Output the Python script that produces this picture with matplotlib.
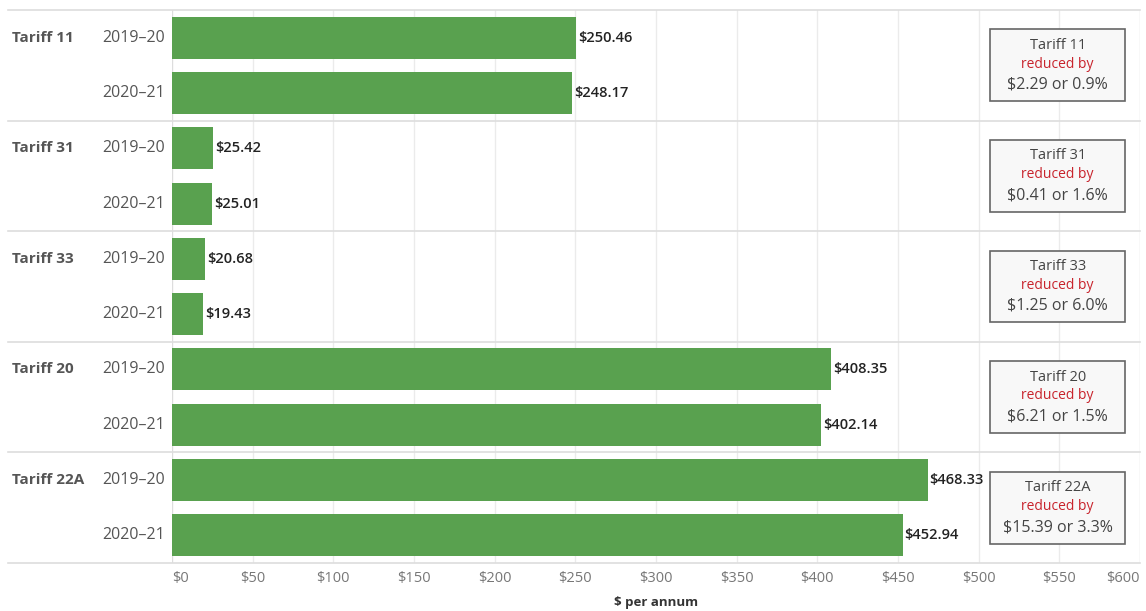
import numpy as np
import matplotlib.pyplot as plt

plt.rcParams['font.family'] = ['Open Sans', 'DejaVu Sans']

# 年度別の料金（$ per annum）
tariffs = ['Tariff 11', 'Tariff 31', 'Tariff 33', 'Tariff 20', 'Tariff 22A']
years = ['2019\u201320', '2020\u201321']
cost_1920 = [250.46, 25.42, 20.68, 408.35, 468.33]
cost_2021 = [248.17, 25.01, 19.43, 402.14, 452.94]
x_ticks = [0, 50, 100, 150, 200, 250, 300, 350, 400, 450, 500, 550, 600]

bar_color = '#59a14f'
grid_color = '#ebebeb'
label_color = '#555555'

fig = plt.figure(figsize=(11.46, 6.11), dpi=100)
ax = fig.add_axes([172 / 1146, 1 - 563 / 611, (1140 - 172) / 1146, (563 - 10) / 611])

n = len(tariffs)
rows_1920 = np.arange(n) * 2
rows_2021 = rows_1920 + 1
bar_h = 0.76

ax.barh(rows_1920, cost_1920, height=bar_h, color=bar_color, zorder=3)
ax.barh(rows_2021, cost_2021, height=bar_h, color=bar_color, zorder=3)

# 値ラベル
for r, v in zip(np.concatenate([rows_1920, rows_2021]), cost_1920 + cost_2021):
    ax.text(v + 1.2, r, f'${v:,.2f}', va='center', ha='left', fontsize=10.5,
            fontweight=600, color='#222222', zorder=4)

ax.set_xlim(0, 600)
ax.set_ylim(2 * n - 0.5, -0.5)

# グリッド・区切り線
for t in x_ticks[1:-1]:
    ax.axvline(t, color=grid_color, linewidth=1, zorder=1)
ytr = ax.get_yaxis_transform()
for k in range(n + 1):
    ax.plot([-(172 - 8) / (1140 - 172), 1], [2 * k - 0.5] * 2, transform=ytr,
            color='#dddddd', linewidth=1.2, clip_on=False, zorder=2)

for s in ax.spines.values():
    s.set_visible(False)
ax.axvline(0, color='#dddddd', linewidth=1, zorder=2)
ax.axvline(600, color='#dddddd', linewidth=1, zorder=2)

# 行ラベル（料金区分・年度）
for i, name in enumerate(tariffs):
    ax.text(-(172 - 12) / (1140 - 172), rows_1920[i], name, transform=ytr,
            ha='left', va='center', fontsize=11, fontweight='bold', color=label_color)
    for j, yr in enumerate(years):
        ax.text(-7 / (1140 - 172), rows_1920[i] + j, yr, transform=ytr,
                ha='right', va='center', fontsize=11.5, color=label_color)
ax.set_yticks([])

# x軸
ax.set_xticks(x_ticks)
ax.set_xticklabels([f'${t}' for t in x_ticks], fontsize=10.5, color='#777777')
ax.tick_params(axis='x', length=0, pad=6)
tl = ax.get_xticklabels()
tl[0].set_ha('left')
tl[-1].set_ha('right')
ax.set_xlabel('$ per annum', fontsize=9.5, fontweight='bold', color='#333333', labelpad=7)

# 削減額の注記ボックス
box_cx = 549
box_w = 84
for i, name in enumerate(tariffs):
    diff = cost_1920[i] - cost_2021[i]
    pct = diff / cost_1920[i] * 100
    yc = rows_1920[i] + 0.5
    ax.add_patch(plt.Rectangle((box_cx - box_w / 2, yc - 0.65), box_w, 1.3,
                               facecolor='#f8f8f8', edgecolor='#666666',
                               linewidth=1.2, zorder=4))
    ax.text(box_cx, yc - 0.36, name, ha='center', va='center', fontsize=10.5,
            color='#444444', zorder=5)
    ax.text(box_cx, yc - 0.02, 'reduced by', ha='center', va='center', fontsize=10,
            color='#c8232c', zorder=5)
    ax.text(box_cx, yc + 0.35, f'${diff:.2f} or {pct:.1f}%', ha='center',
            va='center', fontsize=11.5, color='#444444', zorder=5)

fig.savefig('out.png', dpi=100)
